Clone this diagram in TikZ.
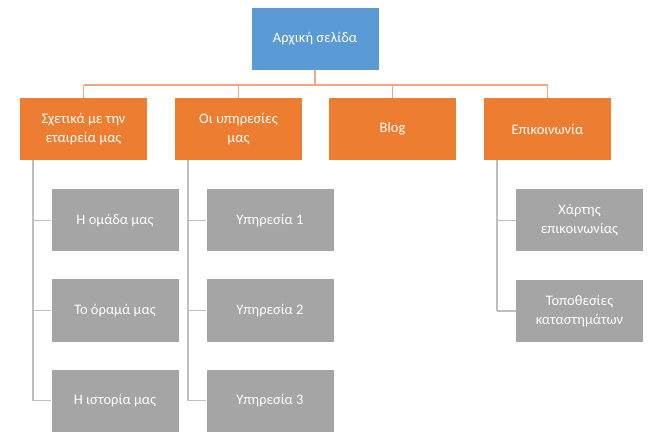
\documentclass[tikz,border=0pt]{standalone}
\usepackage{fontspec}
\setmainfont{Carlito}
\usetikzlibrary{positioning}
\definecolor{rootblue}{HTML}{5B9BD5}
\definecolor{secorange}{HTML}{ED7D31}
\definecolor{pagegray}{HTML}{A5A5A5}
\definecolor{busline}{HTML}{F1A983}
\definecolor{leafline}{HTML}{BFBFBF}

\begin{document}
\begin{tikzpicture}[x=1pt, y=-1pt,
  box/.style={minimum width=127pt, minimum height=62pt, inner sep=2pt, align=center, text=white, font=\fontsize{14.5}{19}\selectfont},
  rootbox/.style={box, fill=rootblue},
  secbox/.style={box, fill=secorange},
  pagebox/.style={box, fill=pagegray},
  bus/.style={draw=busline, line width=1.2pt},
  leaf/.style={draw=leafline, line width=1.2pt}]
  \useasboundingbox (0,0) rectangle (661,446);
  \node[rootbox] (home) at (315,39) {Αρχική σελίδα};
  % sections
  \node[secbox] (about) at (83.5,129) {Σχετικά με την\\εταιρεία μας};
  \node[secbox] (serv) at (238.5,129) {Οι υπηρεσίες\\μας};
  \node[secbox] (blog) at (392.5,129) {Blog};
  \node[secbox] (cont) at (547.5,129) {Επικοινωνία};
  % pages
  \node[pagebox] (team) at (115,220.5) {Η ομάδα μας};
  \node[pagebox] (vision) at (115,310.5) {Το όραμά μας};
  \node[pagebox] (hist) at (115,400.5) {Η ιστορία μας};
  \node[pagebox] (s1) at (270,220.5) {Υπηρεσία 1};
  \node[pagebox] (s2) at (270,310.5) {Υπηρεσία 2};
  \node[pagebox] (s3) at (270,400.5) {Υπηρεσία 3};
  \node[pagebox] (map) at (579.5,220.5) {Χάρτης\\επικοινωνίας};
  \node[pagebox] (shops) at (579.5,311) {Τοποθεσίες\\καταστημάτων};

  \coordinate (hub) at (315,85);
  \coordinate (aboutrail) at (33,0);
  \coordinate (servrail) at (188,0);
  \coordinate (contrail) at (497,0);
  \draw[bus] (home.south) -- (hub);
  \foreach \s in {about,serv,blog,cont}
    \draw[bus] (\s.north) -- (\s.north |- hub);
  \draw[bus] (about.north |- hub) -- (cont.north |- hub);

  \foreach \s/\last in {about/hist, serv/s3, cont/shops}
    \draw[leaf] (\s.south -| \s rail) -- (\last.west -| \s rail);
  \foreach \p/\s in {team/about, vision/about, hist/about, s1/serv, s2/serv, s3/serv, map/cont, shops/cont}
    \draw[leaf] (\p.west -| \s rail) -- (\p.west);
\end{tikzpicture}
\end{document}
